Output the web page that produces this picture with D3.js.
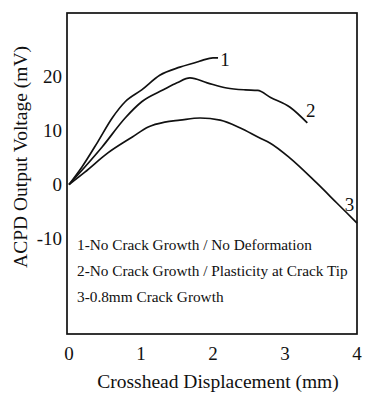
<!DOCTYPE html>
<html>
<head>
<meta charset="utf-8">
<script src="https://cdn.jsdelivr.net/npm/d3@7"></script>
<style>
  body { margin: 0; background: #fff; }
  text { font-family: "Liberation Serif", "DejaVu Serif", serif; fill: #111; }
  .curve { fill: none; stroke: #111; stroke-width: 1.7; }
</style>
</head>
<body>
<div id="chart"></div>
<script>
const xTicks = [0, 1, 2, 3, 4];
const yTicks = [20, 10, 0, -10];

const curve1 = [[0,0],[0.18,3.25],[0.4,7.9],[0.6,12.3],[0.78,15.3],[1.01,17.5],[1.26,20.2],
  [1.54,21.7],[1.78,22.65],[1.86,23.0],[2.0,23.4],[2.07,23.4]];
const curve2 = [[0,0],[0.22,3.25],[0.46,6.95],[0.78,12.3],[1.01,15.3],[1.31,17.5],[1.5,18.8],
  [1.68,19.7],[1.92,18.8],[2.19,17.85],[2.45,17.5],[2.62,17.4],[2.8,16.1],[3.07,14.3],[3.31,11.4]];
const curve3 = [[0,0],[0.22,2.3],[0.54,5.85],[0.88,8.8],[1.1,10.65],[1.33,11.55],[1.54,11.9],
  [1.82,12.3],[2.1,11.9],[2.38,10.45],[2.65,8.6],[2.79,7.7],[3.07,4.9],[3.44,0.3],[3.72,-3.4],[4.0,-7.1]];

const curveLabels = ['1', '2', '3'];
const legendLines = [
  '1-No Crack Growth / No Deformation',
  '2-No Crack Growth / Plasticity at Crack Tip',
  '3-0.8mm Crack Growth'
];

const W = 365, H = 399;
const box = { left: 67, right: 357, top: 13, bottom: 334 };

let svg = d3.select('#chart').append('svg')
  .attr('width', W).attr('height', H);

let x = d3.scaleLinear().domain([0, 4]).range([69, 357]);
let y = d3.scaleLinear().domain([-27.6, 31.7]).range([box.bottom, box.top]);

// frame
svg.append('rect')
  .attr('x', box.left).attr('y', box.top)
  .attr('width', box.right - box.left).attr('height', box.bottom - box.top)
  .attr('fill', 'none').attr('stroke', '#111').attr('stroke-width', 1.7);

// y tick labels (no tick marks in the original)
svg.selectAll('text.ytick').data(yTicks).join('text')
  .attr('class', 'ytick')
  .attr('x', 62).attr('y', d => y(d))
  .attr('dy', '0.35em')
  .attr('text-anchor', 'end')
  .style('font-size', '19px')
  .text(d => d);

svg.selectAll('text.xtick').data(xTicks).join('text')
  .attr('class', 'xtick')
  .attr('x', d => x(d)).attr('y', 360)
  .attr('text-anchor', 'middle')
  .style('font-size', '19px')
  .text(d => d);

// axis titles
svg.append('text')
  .attr('x', 218).attr('y', 388)
  .attr('text-anchor', 'middle')
  .style('font-size', '19.5px')
  .text('Crosshead Displacement (mm)');

svg.append('text')
  .attr('transform', 'translate(27,157) rotate(-90)')
  .attr('text-anchor', 'middle')
  .style('font-size', '19.5px')
  .text('ACPD Output Voltage (mV)');

// curves
let line = d3.line().x(d => x(d[0])).y(d => y(d[1])).curve(d3.curveMonotoneX);
let curves = [curve1, curve2, curve3];

svg.selectAll('path.curve').data(curves).join('path')
  .attr('class', 'curve')
  .attr('d', line);

// curve numbers next to the line ends
let labelPos = [[2.1, 23.2], [3.29, 13.8], [3.83, -3.6]];
svg.selectAll('text.clabel').data(curveLabels).join('text')
  .attr('class', 'clabel')
  .attr('x', (d, i) => x(labelPos[i][0]))
  .attr('y', (d, i) => y(labelPos[i][1]))
  .attr('dy', '0.35em')
  .style('font-size', '19px')
  .text(d => d);

// legend text
svg.selectAll('text.legend').data(legendLines).join('text')
  .attr('class', 'legend')
  .attr('x', 77)
  .attr('y', (d, i) => 250 + i * 26)
  .style('font-size', '15.3px')
  .text(d => d);
</script>
</body>
</html>
